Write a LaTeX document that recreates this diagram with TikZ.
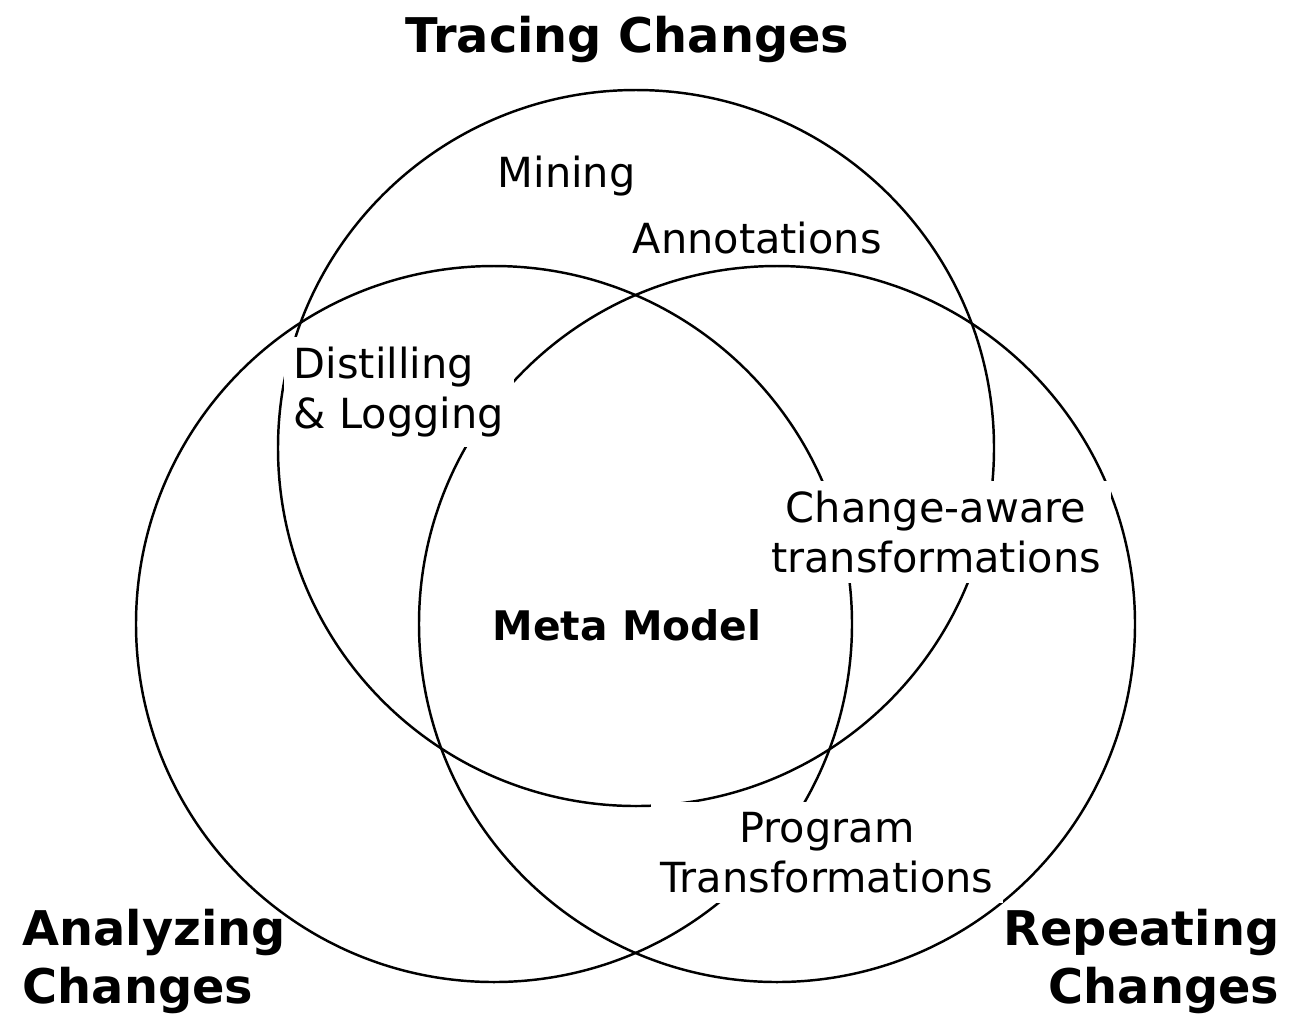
\documentclass[tikz,border=0pt]{standalone}
\usepackage{fontspec}
\setmainfont{DejaVu Sans}
\tikzset{
ring/.style={draw, circle, line width=0.7pt, minimum size=7.16cm, inner sep=0pt}, % one circle of the diagram
area/.style={inner sep=0pt, font=\fontsize{11.8}{14.2}\selectfont}, % plain label inside the circles
cutout/.style={area, fill=white, inner sep=0.1cm}, % label that hides the lines behind it
heading/.style={inner sep=0pt, font=\fontsize{13.6}{16.5}\selectfont\bfseries}, % name of a circle
}

\begin{document}
\begin{tikzpicture}
    \useasboundingbox (0,0) rectangle (12.9,-10.15);
    \node[ring] (tracing) at (6.36,-4.48) {};
    \node[ring] (analyzing) at (4.94,-6.24) {};
    \node[ring] (repeating) at (7.77,-6.24) {};

    \node[heading, anchor=base] (tracingtitle) at (6.275,-0.52) {Tracing Changes};
    \node[heading, anchor=base west, align=left] (analyzingtitle) at (0.22,-10.03) {Analyzing\\Changes};
    \node[heading, anchor=base east, align=right] (repeatingtitle) at (12.80,-10.03) {Repeating\\Changes};

    \node[area, anchor=base west] (mining) at (4.97,-1.87) {Mining};
    \node[area, anchor=base west] (annotations) at (6.32,-2.53) {Annotations};
    \node[cutout, anchor=base west, align=left] (distilling) at (2.83,-4.28) {Distilling\\\& Logging};
    \node[cutout, anchor=base, align=center] (changeaware) at (9.36,-5.72) {Change-aware\\transformations};
    \node[cutout, anchor=base, align=center] (program) at (8.27,-8.92) {Program\\Transformations};
    \node[area, anchor=base, font=\fontsize{11.6}{14}\selectfont\bfseries] (metamodel) at (6.27,-6.40) {Meta Model};
\end{tikzpicture}
\end{document}
